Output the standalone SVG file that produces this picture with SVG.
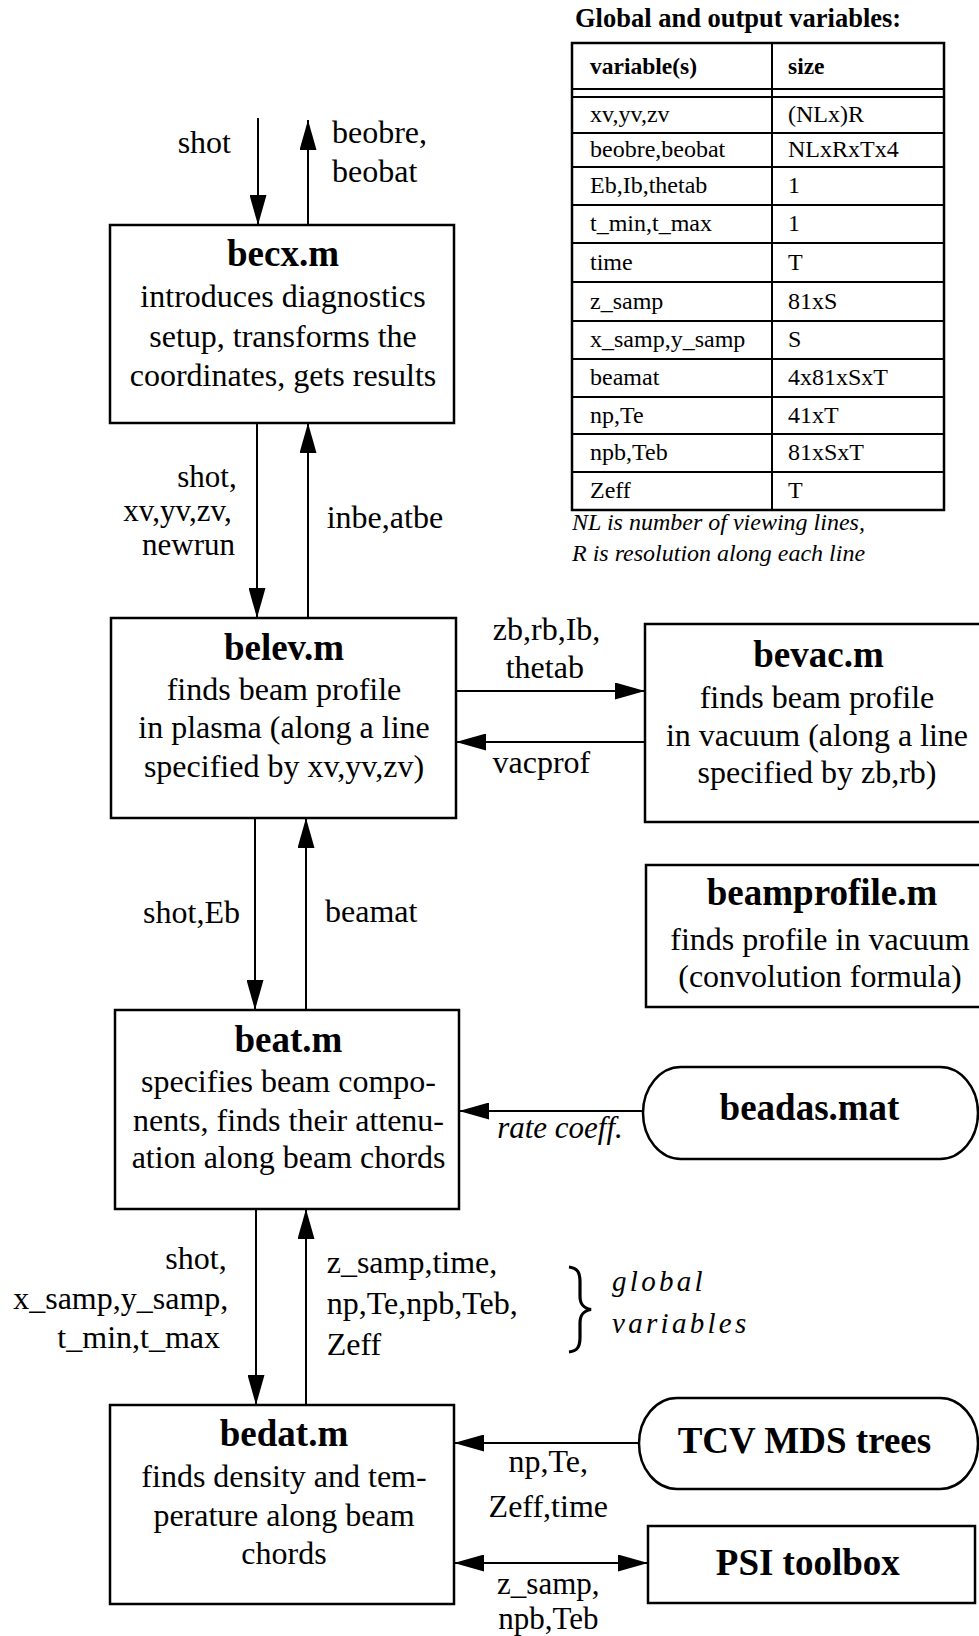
<svg xmlns="http://www.w3.org/2000/svg" width="979" height="1636" viewBox="0 0 979 1636">
<style>
  text { font-family: "Liberation Serif", "Times New Roman", serif; fill: #000; }
  .t { font-size: 32px; }
  .s { font-size: 31px; }
  .c { text-anchor: middle; }
  .e { text-anchor: end; }
  .h { font-size: 37px; font-weight: bold; text-anchor: middle; }
  .tt { font-size: 26.5px; font-weight: bold; }
  .th { font-size: 23.5px; font-weight: bold; }
  .tb { font-size: 24px; }
  .it { font-size: 24px; font-style: italic; }
  .ri { font-size: 31px; font-style: italic; }
  .gv { font-size: 29px; font-style: italic; letter-spacing: 3.3px; }
  .box { fill: #fff; stroke: #000; stroke-width: 2.5; }
  .ln { fill: none; stroke: #000; stroke-width: 2; }
  .arr { fill: none; stroke: #000; stroke-width: 2; marker-end: url(#ah); }
  .arr2 { fill: none; stroke: #000; stroke-width: 2; marker-end: url(#ah); marker-start: url(#ah); }
</style>
<defs>
  <marker id="ah" markerUnits="userSpaceOnUse" markerWidth="30" markerHeight="17" refX="30" refY="8.5" orient="auto-start-reverse">
    <path d="M0,0 L30,8.5 L0,17 z" fill="#000"/>
  </marker>
</defs>
<rect width="979" height="1636" fill="#fff"/>

<!-- Table -->
<g id="table">
  <text class="tt" x="575" y="27">Global and output variables:</text>
  <rect x="572" y="43" width="372" height="467" fill="none" stroke="#000" stroke-width="2.5"/>
  <g class="ln">
    <line x1="772" y1="43" x2="772" y2="510"/>
    <line x1="572" y1="89" x2="944" y2="89"/>
    <line x1="572" y1="97" x2="944" y2="97"/>
    <line x1="572" y1="133" x2="944" y2="133"/>
    <line x1="572" y1="167" x2="944" y2="167"/>
    <line x1="572" y1="205" x2="944" y2="205"/>
    <line x1="572" y1="243" x2="944" y2="243"/>
    <line x1="572" y1="282" x2="944" y2="282"/>
    <line x1="572" y1="321" x2="944" y2="321"/>
    <line x1="572" y1="359" x2="944" y2="359"/>
    <line x1="572" y1="397" x2="944" y2="397"/>
    <line x1="572" y1="434" x2="944" y2="434"/>
    <line x1="572" y1="472" x2="944" y2="472"/>
  </g>
  <text class="th" x="590" y="74">variable(s)</text>
  <text class="th" x="788" y="74">size</text>
  <text class="tb" x="590" y="122">xv,yv,zv</text>
  <text class="tb" x="788" y="122">(NLx)R</text>
  <text class="tb" x="590" y="157">beobre,beobat</text>
  <text class="tb" x="788" y="157">NLxRxTx4</text>
  <text class="tb" x="590" y="193">Eb,Ib,thetab</text>
  <text class="tb" x="788" y="193">1</text>
  <text class="tb" x="590" y="231">t_min,t_max</text>
  <text class="tb" x="788" y="231">1</text>
  <text class="tb" x="590" y="269.5">time</text>
  <text class="tb" x="788" y="269.5">T</text>
  <text class="tb" x="590" y="308.5">z_samp</text>
  <text class="tb" x="788" y="308.5">81xS</text>
  <text class="tb" x="590" y="347">x_samp,y_samp</text>
  <text class="tb" x="788" y="347">S</text>
  <text class="tb" x="590" y="385">beamat</text>
  <text class="tb" x="788" y="385">4x81xSxT</text>
  <text class="tb" x="590" y="422.5">np,Te</text>
  <text class="tb" x="788" y="422.5">41xT</text>
  <text class="tb" x="590" y="460">npb,Teb</text>
  <text class="tb" x="788" y="460">81xSxT</text>
  <text class="tb" x="590" y="498">Zeff</text>
  <text class="tb" x="788" y="498">T</text>
  <text class="it" x="572" y="530">NL is number of viewing lines,</text>
  <text class="it" x="572" y="561">R is resolution along each line</text>
</g>

<!-- Connectors -->
<g id="connectors">
  <line class="arr" x1="258" y1="118" x2="258" y2="225"/>
  <line class="arr" x1="308" y1="225" x2="308" y2="120"/>
  <line class="arr" x1="257" y1="423" x2="257" y2="618"/>
  <line class="arr" x1="308" y1="618" x2="308" y2="423"/>
  <line class="arr" x1="255" y1="818" x2="255" y2="1010"/>
  <line class="arr" x1="306" y1="1010" x2="306" y2="818"/>
  <line class="arr" x1="256" y1="1209" x2="256" y2="1405"/>
  <line class="arr" x1="306" y1="1405" x2="306" y2="1209"/>
  <line class="arr" x1="456" y1="691" x2="645" y2="691"/>
  <line class="arr" x1="645" y1="742" x2="456" y2="742"/>
  <line class="arr" x1="643" y1="1111" x2="459" y2="1111"/>
  <line class="arr" x1="639" y1="1443" x2="454" y2="1443"/>
  <line class="arr2" x1="454" y1="1563" x2="648" y2="1563"/>
  <path d="M569,1267 C578,1268 580,1273 580,1282 L580,1296 C580,1304 583,1308 591,1309.5 C583,1311 580,1315 580,1323 L580,1337 C580,1346 578,1351 569,1352" fill="none" stroke="#000" stroke-width="3.2"/>
  <text class="t e" x="231" y="153">shot</text>
  <text class="t" x="332" y="143">beobre,</text>
  <text class="t" x="332" y="182">beobat</text>
  <text class="s e" x="236.7" y="487">shot,</text>
  <text class="s e" x="231.7" y="521">xv,yv,zv,</text>
  <text class="s e" x="235" y="555">newrun</text>
  <text class="t" x="326.7" y="528">inbe,atbe</text>
  <text class="t c" x="546.6" y="640">zb,rb,Ib,</text>
  <text class="t c" x="544.8" y="678">thetab</text>
  <text class="t c" x="541.4" y="773">vacprof</text>
  <text class="t e" x="240" y="923">shot,Eb</text>
  <text class="t" x="325" y="922">beamat</text>
  <text class="ri c" x="560" y="1138">rate coeff.</text>
  <text class="t e" x="226.7" y="1269">shot,</text>
  <text class="t e" x="228.3" y="1309">x_samp,y_samp,</text>
  <text class="t e" x="220" y="1348">t_min,t_max</text>
  <text class="t" x="326.7" y="1273">z_samp,time,</text>
  <text class="t" x="326.7" y="1314">np,Te,npb,Teb,</text>
  <text class="t" x="326.7" y="1355">Zeff</text>
  <text class="gv" x="612" y="1291">global</text>
  <text class="gv" x="612" y="1333">variables</text>
  <text class="t c" x="548.3" y="1472">np,Te,</text>
  <text class="t c" x="548.3" y="1517">Zeff,time</text>
  <text class="s c" x="548.3" y="1594">z_samp,</text>
  <text class="s c" x="548.3" y="1629">npb,Teb</text>
</g>

<!-- Nodes -->
<g id="becx">
  <rect class="box" x="110" y="225" width="344" height="198"/>
  <text class="h" x="283" y="266">becx.m</text>
  <text class="t c" x="283" y="307">introduces diagnostics</text>
  <text class="t c" x="283" y="347">setup, transforms the</text>
  <text class="t c" x="283" y="386">coordinates, gets results</text>
</g>

<g id="belev">
  <rect class="box" x="111" y="618" width="345" height="200"/>
  <text class="h" x="284" y="660">belev.m</text>
  <text class="t c" x="284" y="700">finds beam profile</text>
  <text class="t c" x="284" y="738">in plasma (along a line</text>
  <text class="t c" x="284" y="777">specified by xv,yv,zv)</text>
</g>

<g id="bevac">
  <rect class="box" x="645" y="624" width="336" height="198"/>
  <text class="h" x="818.5" y="667">bevac.m</text>
  <text class="t c" x="817" y="708">finds beam profile</text>
  <text class="t c" x="817" y="746">in vacuum (along a line</text>
  <text class="t c" x="817" y="783">specified by zb,rb)</text>
</g>

<g id="beamprofile">
  <rect class="box" x="646" y="865" width="335" height="142"/>
  <text class="h" x="822" y="905">beamprofile.m</text>
  <text class="t c" x="820" y="950">finds profile in vacuum</text>
  <text class="t c" x="820" y="987">(convolution formula)</text>
</g>

<g id="beat">
  <rect class="box" x="115" y="1010" width="344" height="199"/>
  <text class="h" x="288.5" y="1052">beat.m</text>
  <text class="t c" x="288.5" y="1092">specifies beam compo-</text>
  <text class="t c" x="288.5" y="1131">nents, finds their attenu-</text>
  <text class="t c" x="288.5" y="1168">ation along beam chords</text>
</g>

<g id="beadas">
  <rect class="box" x="643" y="1067" width="335" height="92" rx="38" ry="46"/>
  <text class="h" x="809.5" y="1120">beadas.mat</text>
</g>

<g id="bedat">
  <rect class="box" x="110" y="1405" width="344" height="199"/>
  <text class="h" x="284" y="1446">bedat.m</text>
  <text class="t c" x="284" y="1487">finds density and tem-</text>
  <text class="t c" x="284" y="1526">perature along beam</text>
  <text class="t c" x="284" y="1564">chords</text>
</g>

<g id="tcv">
  <rect class="box" x="639" y="1398" width="339" height="91" rx="38" ry="45.5"/>
  <text class="h" x="804.4" y="1453">TCV MDS trees</text>
</g>

<g id="psi">
  <rect class="box" x="648" y="1526" width="327" height="77"/>
  <text class="h" x="807.8" y="1575">PSI toolbox</text>
</g>
</svg>
